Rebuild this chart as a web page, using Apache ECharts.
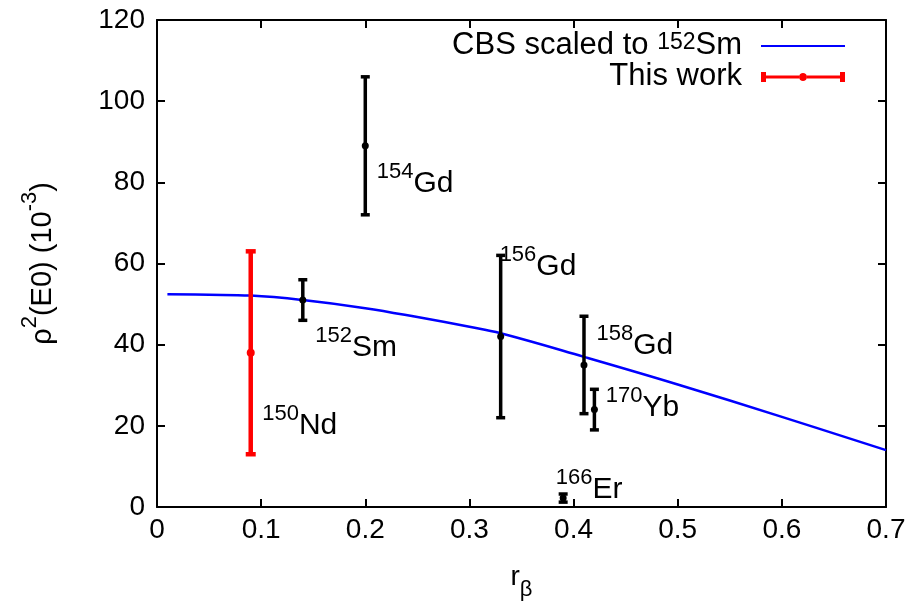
<!DOCTYPE html>
<html>
<head>
<meta charset="utf-8">
<script src="https://cdn.jsdelivr.net/npm/echarts@6/dist/echarts.min.js"></script>
<style>html,body{margin:0;padding:0;background:#fff}#c{width:914px;height:613px}</style>
</head>
<body>
<div id="c"></div>
<script>
// CBS curve (scaled to 152Sm)
const curveX = [0.01, 0.05, 0.09, 0.14, 0.2, 0.25, 0.3, 0.33, 0.41, 0.5, 0.6, 0.7];
const curveY = [52.4, 52.3, 52.1, 51.0, 49.0, 46.8, 44.4, 42.8, 37.0, 30.2, 22.2, 14.0];

// Literature nuclei (black error bars)
const litNames = ['152Sm', '154Gd', '156Gd', '158Gd', '170Yb', '166Er'];
const litX = [0.14, 0.2, 0.33, 0.41, 0.42, 0.39];
const litY = [51, 89, 42, 35, 24, 2.2];
const litLo = [46, 72, 22, 23, 19, 1.2];
const litHi = [56, 106, 62, 47, 29, 3.2];

// This work (red)
const workX = [0.09];
const workY = [38];
const workLo = [13];
const workHi = [63];

// Isotope labels: mass number, element, anchor (data units)
const labMass = ['150', '152', '154', '156', '158', '170', '166'];
const labElem = ['Nd', 'Sm', 'Gd', 'Gd', 'Gd', 'Yb', 'Er'];
const labX = [0.101, 0.152, 0.211, 0.329, 0.422, 0.431, 0.383];
const labY = [20.9, 40.2, 80.6, 60.1, 40.6, 25.4, 5.2];

const xTicks = [0, 0.1, 0.2, 0.3, 0.4, 0.5, 0.6, 0.7];
const yTicks = [0, 20, 40, 60, 80, 100, 120];

const FONT = 'Liberation Sans';

function errRender(color, lw, capW, dotR) {
  return function (params, api) {
    const x = api.value(0), y = api.value(1), lo = api.value(2), hi = api.value(3);
    const pc = api.coord([x, y]);
    const pl = api.coord([x, lo]);
    const ph = api.coord([x, hi]);
    const st = { stroke: color, lineWidth: lw, fill: null };
    return {
      type: 'group',
      children: [
        { type: 'line', shape: { x1: pl[0], y1: pl[1], x2: ph[0], y2: ph[1] }, style: st },
        { type: 'line', shape: { x1: pl[0] - capW / 2, y1: pl[1], x2: pl[0] + capW / 2, y2: pl[1] }, style: st },
        { type: 'line', shape: { x1: ph[0] - capW / 2, y1: ph[1], x2: ph[0] + capW / 2, y2: ph[1] }, style: st },
        { type: 'circle', shape: { cx: pc[0], cy: pc[1], r: dotR }, style: { fill: color } }
      ]
    };
  };
}

const chart = echarts.init(document.getElementById('c'), null, { renderer: 'canvas' });

const axisCommon = {
  axisLine: { show: true, onZero: false, lineStyle: { color: '#000', width: 2 } },
  axisTick: { show: true, inside: true, length: 8, lineStyle: { color: '#000', width: 2 } },
  splitLine: { show: false }
};

const option = {
  backgroundColor: '#fff',
  animation: false,
  textStyle: { fontFamily: FONT, color: '#000' },
  grid: { left: 157, right: 28, top: 20, bottom: 106, containLabel: false },
  legend: {
    orient: 'vertical',
    right: 64,
    top: 25,
    align: 'right',
    itemGap: 0,
    itemWidth: 84,
    itemHeight: 12,
    selectedMode: false,
    textStyle: {
      fontFamily: FONT,
      fontSize: 31,
      color: '#000',
      padding: [0, 14, 0, 0],
      rich: {
        m: { fontFamily: FONT, fontSize: 31, color: '#000', lineHeight: 30, verticalAlign: 'bottom' },
        s: { fontFamily: FONT, fontSize: 23, color: '#000', lineHeight: 30, verticalAlign: 'top' }
      }
    },
    formatter: function (name) {
      return name === 'cbs' ? '{m|CBS scaled to }{s|152}{m|Sm}' : '{m|This work}';
    },
    data: [
      { name: 'cbs', icon: 'path://M0,5 H84 V7 H0 Z', itemStyle: { color: '#0000ff' } },
      { name: 'work', icon: 'path://M0,1 H5 V4.5 H38 V7.5 H5 V11 H0 Z M46,4.5 H79 V1 H84 V11 H79 V7.5 H46 Z M38,6 C38,3.5 40,2 42,2 C44,2 46,3.5 46,6 C46,8.5 44,10 42,10 C40,10 38,8.5 38,6 Z', itemStyle: { color: '#ff0000' } }
    ]
  },
  xAxis: [
    Object.assign({
      type: 'value', min: 0, max: 0.7, interval: 0.1, position: 'bottom',
      name: '{r|r}{b|β}', nameLocation: 'middle', nameGap: 56,
      nameTextStyle: {
        rich: {
          r: { fontFamily: FONT, fontSize: 28, color: '#000', verticalAlign: 'top', lineHeight: 38 },
          b: { fontFamily: FONT, fontSize: 22, color: '#000', verticalAlign: 'bottom', lineHeight: 38 }
        }
      },
      axisLabel: {
        fontFamily: FONT, fontSize: 28, color: '#000', margin: 9,
        formatter: function (v) { const t = xTicks.find(k => Math.abs(k - v) < 1e-9); return t === 0 ? '0' : String(t); }
      }
    }, axisCommon),
    Object.assign({
      type: 'value', min: 0, max: 0.7, interval: 0.1, position: 'top',
      axisLabel: { show: false }
    }, axisCommon)
  ],
  yAxis: [
    Object.assign({
      type: 'value', min: 0, max: 120, interval: 20, position: 'left',
      name: '{m|ρ}{s|2}{m|(E0) (10}{s|-3}{m|)}', nameLocation: 'middle', nameGap: 100, nameRotate: 90,
      nameTextStyle: {
        rich: {
          m: { fontFamily: FONT, fontSize: 29, color: '#000', verticalAlign: 'bottom', lineHeight: 38 },
          s: { fontFamily: FONT, fontSize: 22, color: '#000', verticalAlign: 'top', lineHeight: 38 }
        }
      },
      axisLabel: {
        fontFamily: FONT, fontSize: 28, color: '#000', margin: 12,
        formatter: function (v) { const t = yTicks.find(k => Math.abs(k - v) < 1e-9); return String(t); }
      }
    }, axisCommon),
    Object.assign({
      type: 'value', min: 0, max: 120, interval: 20, position: 'right',
      axisLabel: { show: false }
    }, axisCommon)
  ],
  series: [
    {
      name: 'cbs',
      type: 'line',
      smooth: 0.4,
      symbol: 'none',
      xAxisIndex: 0, yAxisIndex: 0,
      lineStyle: { color: '#0000ff', width: 2.5 },
      itemStyle: { color: '#0000ff' },
      data: curveX.map((x, i) => [x, curveY[i]]),
      z: 3
    },
    {
      name: 'lit',
      type: 'custom',
      xAxisIndex: 0, yAxisIndex: 0,
      renderItem: errRender('#000', 3.5, 9, 3.5),
      encode: { x: 0, y: [1, 2, 3] },
      data: litX.map((x, i) => [x, litY[i], litLo[i], litHi[i]]),
      z: 4
    },
    {
      name: 'work',
      type: 'custom',
      xAxisIndex: 0, yAxisIndex: 0,
      renderItem: errRender('#ff0000', 4.5, 10, 4),
      encode: { x: 0, y: [1, 2, 3] },
      itemStyle: { color: '#ff0000' },
      data: workX.map((x, i) => [x, workY[i], workLo[i], workHi[i]]),
      z: 4
    },
    {
      name: 'labels',
      type: 'scatter',
      xAxisIndex: 0, yAxisIndex: 0,
      symbolSize: 0,
      silent: true,
      itemStyle: { opacity: 1 },
      data: labX.map((x, i) => ({ value: [x, labY[i]], mass: labMass[i], elem: labElem[i] })),
      label: {
        show: true,
        position: 'right',
        distance: 0,
        color: '#000',
        opacity: 1,
        textBorderWidth: 0,
        formatter: function (p) { return '{s|' + p.data.mass + '}{m|' + p.data.elem + '}'; },
        rich: {
          m: { fontFamily: FONT, fontSize: 30, color: '#000', verticalAlign: 'bottom', lineHeight: 38 },
          s: { fontFamily: FONT, fontSize: 22, color: '#000', verticalAlign: 'top', lineHeight: 38 }
        }
      },
      z: 5
    }
  ]
};

chart.setOption(option);
</script>
</body>
</html>
